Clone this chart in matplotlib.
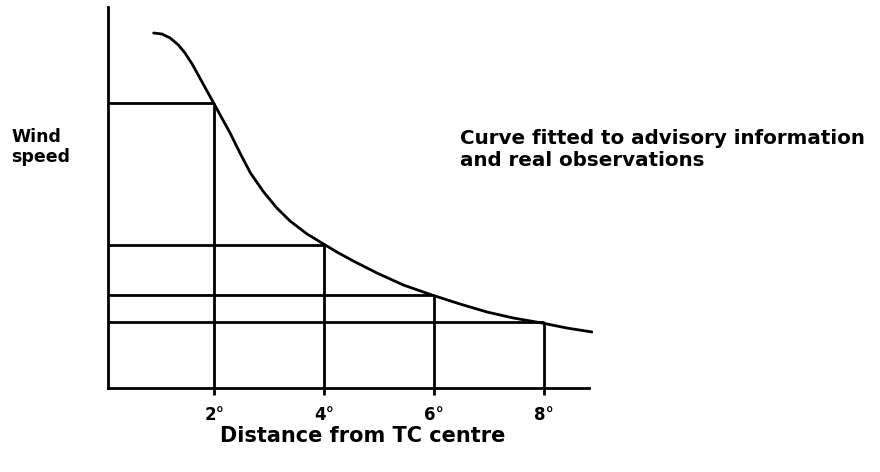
import matplotlib
matplotlib.use('Agg')

import matplotlib.pyplot as plt

plt.rcParams['font.family'] = ['DejaVu Sans']
plt.rcParams['font.weight'] = 'bold'

# Fitted wind profile (distance in degrees, wind speed in arbitrary units)
curve_dist = [0.90, 1.05, 1.20, 1.35, 1.47, 1.60, 1.72, 1.84, 1.99,
              2.14, 2.29, 2.47, 2.66, 2.90, 3.14, 3.38, 3.69, 3.99,
              4.23, 4.53, 4.96, 5.44, 5.96, 6.47, 6.96, 7.44, 7.96,
              8.41, 8.87]
curve_speed = [35.5, 35.4, 35.0, 34.3, 33.5, 32.4, 31.2, 30.0, 28.5,
               27.0, 25.5, 23.5, 21.5, 19.6, 18.0, 16.7, 15.4, 14.4,
               13.6, 12.7, 11.5, 10.3, 9.3, 8.4, 7.6, 7.0, 6.5,
               6.0, 5.6]

read_dist = [2, 4, 6, 8]
read_speed = [28.5, 14.3, 9.3, 6.6]
tick_labels = ['2°', '4°', '6°', '8°']

LW = 2.0
X0 = 0.07

fig = plt.figure(figsize=(8.8, 4.72), dpi=100)
ax = fig.add_axes([108 / 880, 84 / 472, 485 / 880, 381 / 472])

ax.plot(curve_dist, curve_speed, color='black', lw=LW,
        solid_capstyle='round', solid_joinstyle='round')

for d, s in zip(read_dist, read_speed):
    ax.plot([X0, d], [s, s], color='black', lw=LW, solid_capstyle='butt')
    ax.plot([d, d], [0, s], color='black', lw=LW, solid_capstyle='butt')

ax.set_xlim(X0, X0 + 485 / 55)
ax.set_ylim(0, 38.1)

for side in ['top', 'right']:
    ax.spines[side].set_visible(False)
for side in ['left', 'bottom']:
    ax.spines[side].set_linewidth(LW)
ax.spines['bottom'].set_bounds(X0, 8.82)

ax.set_yticks([])
ax.set_xticks(read_dist)
ax.set_xticklabels(tick_labels, fontsize=12, fontweight='bold')
ax.tick_params(axis='x', direction='out', length=5, width=LW, pad=8)

fig.text(363 / 880, 1 - 436 / 472, 'Distance from TC centre',
         ha='center', va='center', fontsize=15, fontweight='bold')
fig.text(11 / 880, 1 - 147 / 472, 'Wind\nspeed', ha='left', va='center',
         fontsize=12.5, fontweight='bold', linespacing=1.2)
fig.text(460 / 880, 1 - 150 / 472,
         'Curve fitted to advisory information\nand real observations',
         ha='left', va='center', fontsize=14.3, fontweight='bold',
         linespacing=1.2)

fig.savefig('out.png', dpi=100)
